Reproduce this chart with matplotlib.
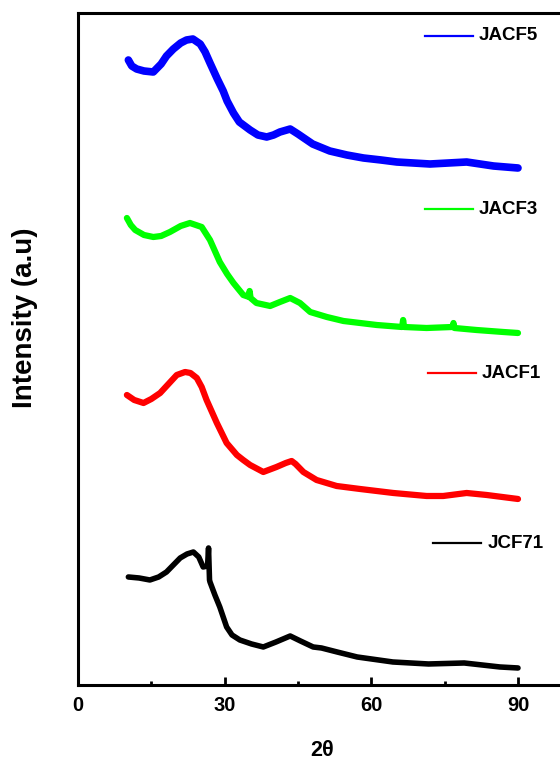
import numpy as np
import matplotlib
matplotlib.use('Agg')
import matplotlib.pyplot as plt

plt.rcParams['font.family'] = ['Liberation Sans', 'DejaVu Sans']
plt.rcParams['font.weight'] = 'bold'

# dados (2theta, intensidade em u.a. com deslocamento)
x_jacf5 = [10.3, 11.0, 12.0, 13.5, 15.4, 17.0, 18.1, 19.5, 21.0, 22.2, 23.5, 25.0, 26.0, 27.0, 28.5, 29.7, 30.5, 31.8, 33.0, 35.2, 36.8, 38.6, 40.0, 41.3, 43.4, 45.0, 46.8, 48.0, 51.5, 55.0, 58.4, 62.0, 65.2, 72.0, 79.5, 85.0, 90.0]
y_jacf5 = [625, 619, 616, 614, 613, 621, 629, 636, 642, 645, 646, 641, 633, 622, 606, 594, 584, 572, 563, 555, 550, 548, 550, 553, 556, 551, 545, 541, 534, 530, 527, 525, 523, 521, 523, 519, 517]

x_jacf3 = [10.0, 10.8, 11.7, 13.5, 15.4, 17.0, 18.8, 21.0, 22.9, 25.3, 27.0, 29.0, 30.5, 31.8, 33.8, 35.0, 35.1, 35.3, 36.5, 39.3, 41.3, 43.4, 45.4, 47.5, 50.9, 54.3, 57.7, 61.1, 66.3, 66.5, 66.7, 71.3, 76.6, 76.8, 77.0, 81.5, 87.0, 90.0]
y_jacf3 = [467, 460, 455, 450, 448, 449, 453, 459, 462, 458, 445, 423, 411, 402, 390, 388, 394, 387, 382, 379, 383, 387, 382, 373, 368, 364, 362, 360, 358, 365, 358, 357, 358, 362, 357, 355, 353, 352]

x_jacf1 = [10.0, 11.5, 13.4, 15.0, 16.8, 18.5, 20.2, 21.9, 23.0, 24.3, 25.3, 26.3, 28.4, 30.4, 32.5, 33.8, 35.2, 37.9, 40.6, 42.5, 43.7, 44.5, 46.1, 48.8, 52.9, 57.7, 64.5, 71.3, 74.7, 79.5, 83.6, 90.0]
y_jacf1 = [290, 285, 282, 286, 292, 301, 310, 313, 312, 307, 298, 285, 262, 242, 230, 225, 220, 213, 218, 222, 224, 221, 213, 205, 199, 196, 192, 189, 189, 192, 190, 186]

x_jcf71 = [10.3, 12.5, 14.7, 16.5, 18.1, 19.5, 20.9, 22.3, 23.6, 24.7, 25.6, 26.5, 26.7, 26.9, 27.0, 28.0, 29.0, 30.4, 31.5, 33.1, 35.5, 37.9, 40.5, 43.4, 45.5, 48.1, 49.8, 53.0, 57.1, 64.4, 71.7, 79.0, 86.3, 90.0]
y_jcf71 = [108, 107, 105, 108, 113, 120, 127, 131, 133, 128, 118, 119, 137, 105, 103, 90, 78, 58, 50, 45, 41, 38, 43, 49, 44, 38, 37, 33, 28, 23, 21, 22, 18, 17]

fig = plt.figure(figsize=(5.6, 7.65), dpi=100)
ax = fig.add_axes([0.1393, 0.1046, 0.873, 0.8784])

ax.plot(x_jacf5, y_jacf5, color='#0000ff', lw=5.5, solid_capstyle='round', solid_joinstyle='round')
ax.plot(x_jacf3, y_jacf3, color='#00ff00', lw=4.5, solid_capstyle='round', solid_joinstyle='round')
ax.plot(x_jacf1, y_jacf1, color='#ff0000', lw=4.5, solid_capstyle='round', solid_joinstyle='round')
ax.plot(x_jcf71, y_jcf71, color='black', lw=4, solid_capstyle='round', solid_joinstyle='round')

# legendas ao lado de cada curva
rotulos = [('JACF5', '#0000ff', 0.710, 0.966), ('JACF3', '#00ff00', 0.710, 0.708),
           ('JACF1', '#ff0000', 0.716, 0.464), ('JCF71', 'black', 0.727, 0.211)]
for nome, cor, x0, y0 in rotulos:
    ax.plot([x0, x0 + 0.098], [y0, y0], color=cor, lw=1.6, transform=ax.transAxes)
    ax.text(x0 + 0.11, y0, nome, transform=ax.transAxes, fontsize=13.5,
            fontweight='bold', va='center', ha='left')

ax.set_xlim(0, 100)
ax.set_ylim(0, 672)
ax.set_xticks([0, 30, 60, 90])
ax.set_xticks([15, 45, 75], minor=True)
ax.tick_params(axis='x', which='major', direction='in', length=6, width=2, labelsize=14.5, pad=8)
ax.tick_params(axis='x', which='minor', direction='in', length=3, width=2)
ax.set_yticks([])
for s in ax.spines.values():
    s.set_linewidth(2.2)

ax.set_xlabel('2θ', fontsize=15.5, fontweight='bold', labelpad=18)
ax.set_ylabel('Intensity (a.u)', fontsize=20, fontweight='bold')
ax.yaxis.set_label_coords(-0.082, 0.546)

fig.savefig('out.png', dpi=100)
